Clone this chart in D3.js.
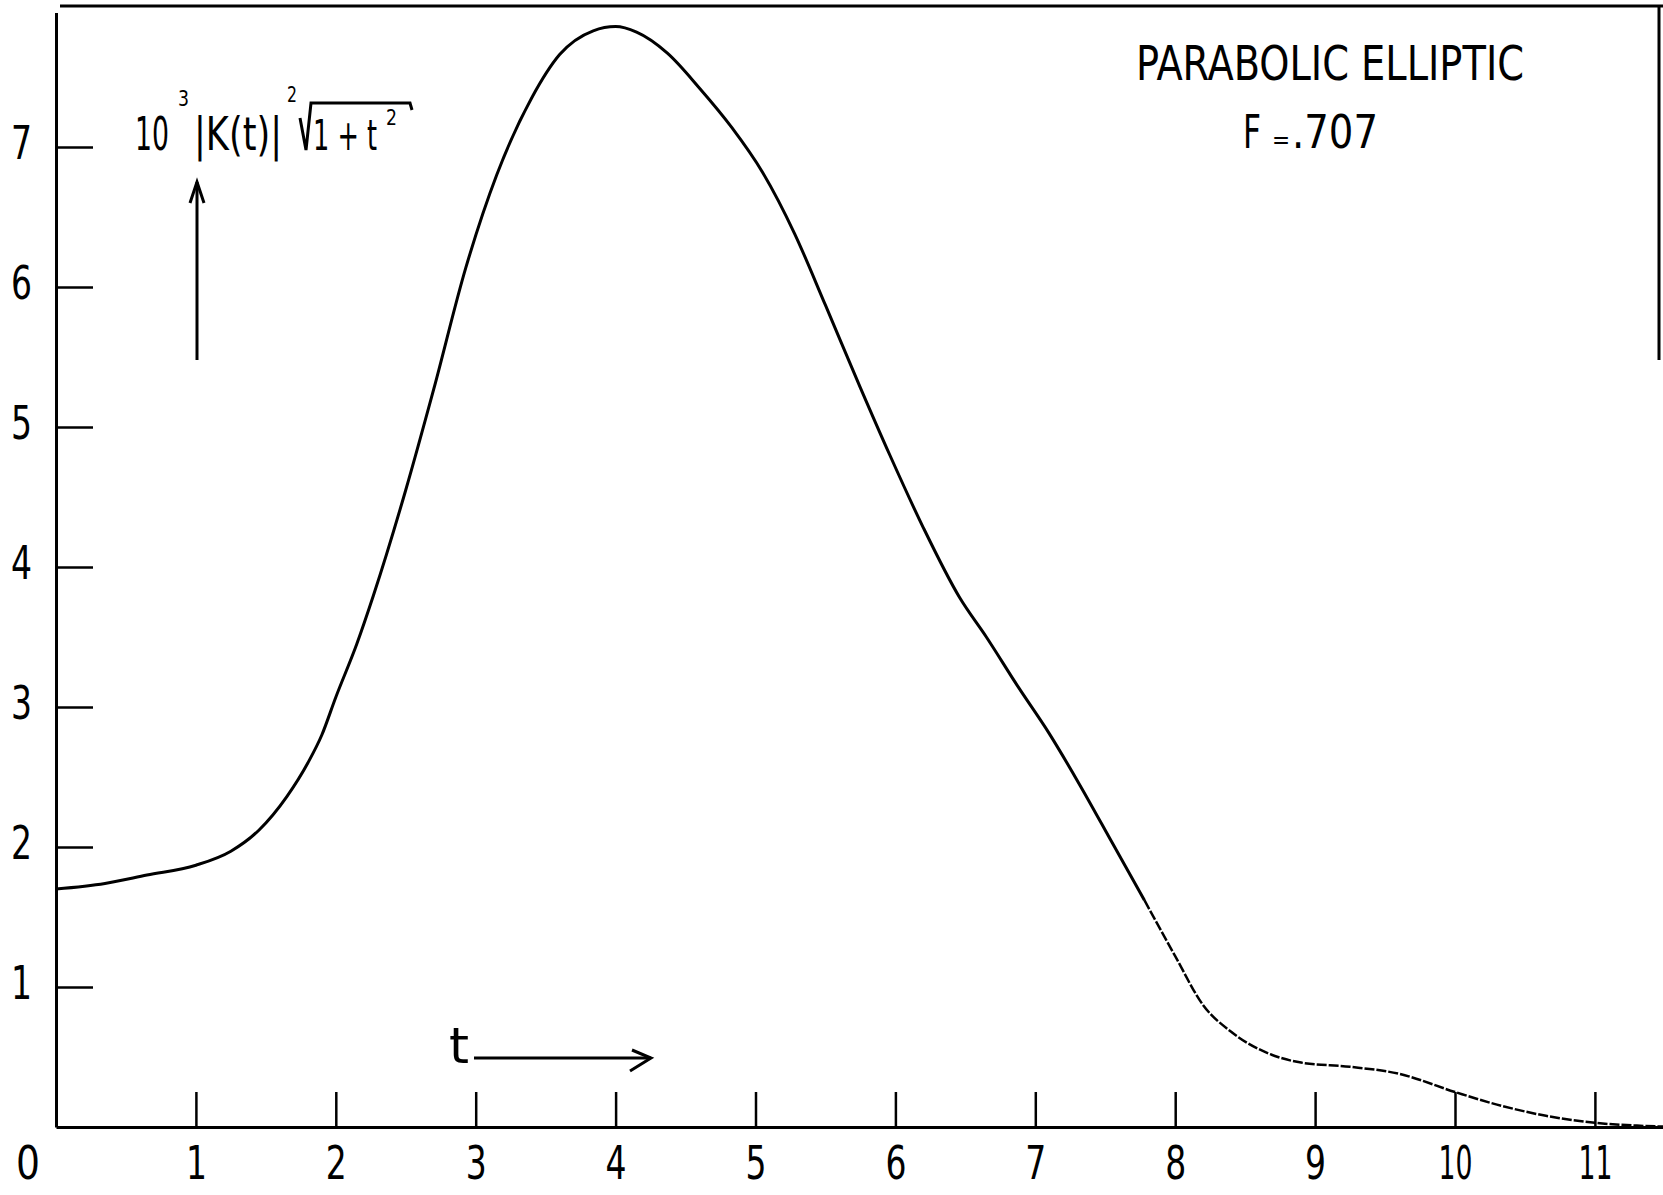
<!DOCTYPE html>
<html>
<head>
<meta charset="utf-8">
<script src="https://cdn.jsdelivr.net/npm/d3@7"></script>
<style>
  body { margin: 0; background: #fff; }
  svg { display: block; }
  .hand { font-family: "Liberation Sans Narrow", "DejaVu Sans Condensed", "Liberation Sans", sans-serif; fill: #000; }
  .axis path, .axis line { stroke: #000; }
</style>
</head>
<body>
<svg id="chart" width="1663" height="1195"></svg>
<script>
// values
const tValues = [0, 0.35, 0.65, 1.0, 1.25, 1.45, 1.65, 1.8, 1.9, 2.0, 2.15, 2.27, 2.5, 2.7, 2.93, 3.15, 3.4, 3.6, 3.84, 4.0,
  4.15, 4.37, 4.6, 4.83, 5.05, 5.28, 5.5, 5.75, 5.96, 6.2, 6.46, 6.65, 6.88, 7.1, 7.32, 7.55, 7.78,
  8.0, 8.2, 8.4, 8.68, 8.9, 9.25, 9.6, 10.0, 10.3, 10.65, 11.0, 11.3, 11.6];
const kValues = [1.70, 1.74, 1.80, 1.87, 1.97, 2.12, 2.36, 2.60, 2.80, 3.07, 3.45, 3.80, 4.55, 5.27, 6.14, 6.80, 7.35, 7.66, 7.83, 7.86,
  7.82, 7.67, 7.42, 7.14, 6.82, 6.38, 5.87, 5.28, 4.80, 4.28, 3.78, 3.50, 3.14, 2.81, 2.44, 2.03, 1.62,
  1.22, 0.87, 0.68, 0.52, 0.46, 0.43, 0.38, 0.25, 0.16, 0.08, 0.03, 0.01, 0.0];
const xTicks = [1, 2, 3, 4, 5, 6, 7, 8, 9, 10, 11];
const yTicks = [1, 2, 3, 4, 5, 6, 7];
const dashFrom = 7.78; // past here the scanned line gets broken up

const svg = d3.select('#chart');

const x = d3.scaleLinear().domain([0, 11.8]).range([56, 56 + 11.8 * 139.9]);
const y = d3.scaleLinear().domain([0, 7.96]).range([1127, 1127 - 7.96 * 140]);

// narrow hand lettering: squeeze digits
const digitWidth = s => s.length === 1 ? 21 : 34;

// frame top + right
svg.append('line').attr('x1', 60).attr('x2', 1663).attr('y1', 6).attr('y2', 6)
  .attr('stroke', '#000').attr('stroke-width', 3);
svg.append('line').attr('x1', 1659).attr('x2', 1659).attr('y1', 6).attr('y2', 360)
  .attr('stroke', '#000').attr('stroke-width', 3);

// x axis, ticks pointing up into the plot
const xAxis = svg.append('g')
  .attr('class', 'axis')
  .attr('transform', `translate(0, ${y(0)})`)
  .call(d3.axisBottom(x).tickValues(xTicks).tickSizeInner(-35).tickSizeOuter(0).tickPadding(19));
xAxis.attr('font-family', null).attr('font-size', null);
xAxis.select('.domain').attr('stroke-width', 3);
xAxis.selectAll('.tick line').attr('stroke-width', 2.5);
xAxis.selectAll('.tick text')
  .attr('class', 'hand').style('font-size', '46px')
  .attr('textLength', d => digitWidth(String(d))).attr('lengthAdjust', 'spacingAndGlyphs');

// y axis, ticks pointing right
const yAxis = svg.append('g')
  .attr('class', 'axis')
  .attr('transform', `translate(${x(0)}, 0)`)
  .call(d3.axisLeft(y).tickValues(yTicks).tickSizeInner(-37).tickSizeOuter(0).tickPadding(24));
yAxis.attr('font-family', null).attr('font-size', null);
yAxis.select('.domain').attr('stroke-width', 3);
yAxis.selectAll('.tick line').attr('stroke-width', 2.5);
yAxis.selectAll('.tick text')
  .attr('class', 'hand').style('font-size', '46px').attr('dy', '0.25em')
  .attr('textLength', d => digitWidth(String(d))).attr('lengthAdjust', 'spacingAndGlyphs');

// shared origin label
svg.append('text').attr('class', 'hand')
  .attr('x', x(0) - 28).attr('y', y(0) + 19).attr('dy', '0.71em')
  .attr('text-anchor', 'middle').style('font-size', '46px')
  .attr('textLength', 24).attr('lengthAdjust', 'spacingAndGlyphs').text('0');

// the curve
const pts = tValues.map((t, i) => ({ t: t, v: kValues[i] }));
const line = d3.line()
  .x(d => x(d.t))
  .y(d => y(d.v))
  .curve(d3.curveMonotoneX);

svg.append('path')
  .datum(pts.filter(d => d.t <= dashFrom))
  .attr('d', line)
  .attr('fill', 'none').attr('stroke', '#000').attr('stroke-width', 3);

svg.append('path')
  .datum(pts.filter(d => d.t >= dashFrom))
  .attr('d', line)
  .attr('fill', 'none').attr('stroke', '#000').attr('stroke-width', 2.5)
  .attr('stroke-dasharray', '10 2');

// title block
svg.append('text').attr('class', 'hand')
  .attr('x', 1136).attr('y', 80)
  .attr('textLength', 388).attr('lengthAdjust', 'spacingAndGlyphs')
  .style('font-size', '48px').text('PARABOLIC ELLIPTIC');
const fText = svg.append('text').attr('class', 'hand').attr('y', 148);
fText.append('tspan').attr('x', 1243).attr('textLength', 18).attr('lengthAdjust', 'spacingAndGlyphs')
  .style('font-size', '46px').text('F');
fText.append('tspan').attr('x', 1272).style('font-size', '24px').text('=');
fText.append('tspan').attr('x', 1292).attr('textLength', 86).attr('lengthAdjust', 'spacingAndGlyphs')
  .style('font-size', '46px').text('.707');

// y quantity label: 10^3 |K(t)|^2 sqrt(1+t^2), one text with positioned pieces
const yl = svg.append('text').attr('class', 'hand');
yl.append('tspan').attr('x', 135).attr('y', 150).attr('textLength', 34).attr('lengthAdjust', 'spacingAndGlyphs')
  .style('font-size', '46px').text('10');
yl.append('tspan').attr('x', 178).attr('y', 106).attr('textLength', 11).attr('lengthAdjust', 'spacingAndGlyphs')
  .style('font-size', '22px').text('3');
yl.append('tspan').attr('x', 194).attr('y', 150).attr('textLength', 88).attr('lengthAdjust', 'spacingAndGlyphs')
  .style('font-size', '46px').text('|K(t)|');
yl.append('tspan').attr('x', 287).attr('y', 102).attr('textLength', 10).attr('lengthAdjust', 'spacingAndGlyphs')
  .style('font-size', '22px').text('2');
yl.append('tspan').attr('x', 313).attr('y', 150).attr('textLength', 64).attr('lengthAdjust', 'spacingAndGlyphs')
  .style('font-size', '42px').text('1 + t');
yl.append('tspan').attr('x', 386).attr('y', 125).attr('textLength', 11).attr('lengthAdjust', 'spacingAndGlyphs')
  .style('font-size', '22px').text('2');
svg.append('path')
  .attr('d', 'M300,118 L306,150 L311,103 L410,103 L412,110')
  .attr('fill', 'none').attr('stroke', '#000').attr('stroke-width', 3);

// up arrow
svg.append('line').attr('x1', 197).attr('x2', 197).attr('y1', 360).attr('y2', 182)
  .attr('stroke', '#000').attr('stroke-width', 3);
svg.append('path').attr('d', 'M190,203 L197,182 L204,203')
  .attr('fill', 'none').attr('stroke', '#000').attr('stroke-width', 3);

// t -> arrow
svg.append('text').attr('class', 'hand')
  .attr('x', 449).attr('y', 1063).attr('textLength', 20).attr('lengthAdjust', 'spacingAndGlyphs')
  .style('font-size', '50px').text('t');
svg.append('line').attr('x1', 474).attr('x2', 651).attr('y1', 1058).attr('y2', 1058)
  .attr('stroke', '#000').attr('stroke-width', 3);
svg.append('path').attr('d', 'M632,1050 L651,1058 L630,1071')
  .attr('fill', 'none').attr('stroke', '#000').attr('stroke-width', 3);
</script>
</body>
</html>
